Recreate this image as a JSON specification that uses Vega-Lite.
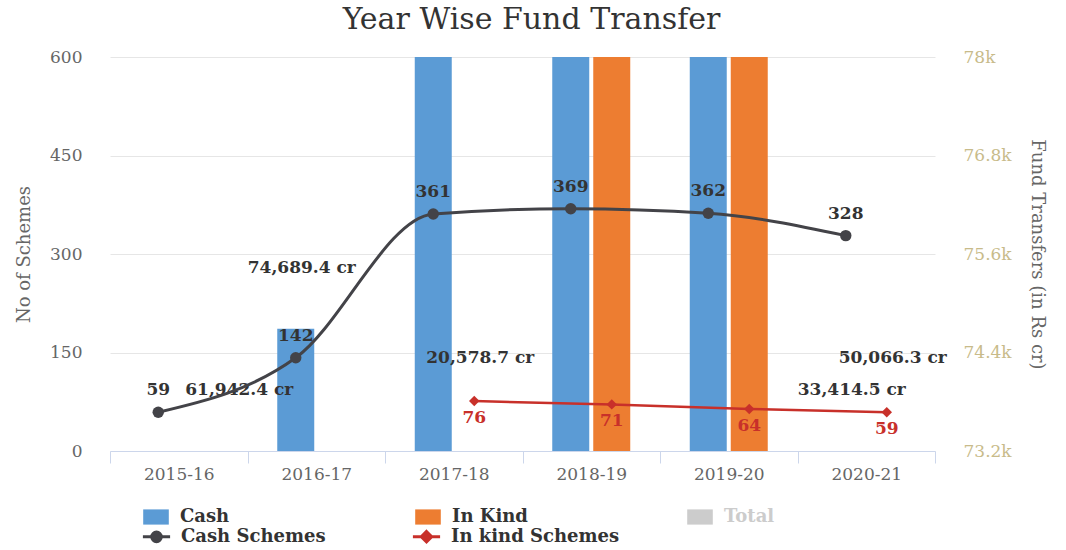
{
  "$schema": "https://vega.github.io/schema/vega-lite/v6.json",
  "width": 825,
  "height": 394,
  "autosize": {"type": "none"},
  "padding": {"left": 110, "top": 57, "right": 131, "bottom": 99},
  "title": {"text": "Year Wise Fund Transfer", "font": "DejaVu Serif", "fontSize": 30, "fontWeight": "normal", "color": "#333333", "anchor": "middle", "frame": "group", "dx": 9, "offset": 13},
  "config": {
    "locale": {"number": {"decimal": ".", "thousands": ",", "grouping": [3], "currency": ["", " cr"]}},
    "view": {"stroke": null},
    "font": "DejaVu Serif",
    "axis": {"labelFont": "DejaVu Serif", "titleFont": "DejaVu Serif"},
    "legend": {"labelFont": "DejaVu Serif"}
  },
  "data": {
    "values": [
      {"year": "2015-16", "type": "Cash", "amount": 61942.4, "schemes": 59},
      {"year": "2016-17", "type": "Cash", "amount": 74689.4, "schemes": 142},
      {"year": "2017-18", "type": "Cash", "amount": 170292.6, "schemes": 361},
      {"year": "2018-19", "type": "Cash", "amount": 214092, "schemes": 369},
      {"year": "2019-20", "type": "Cash", "amount": 240964, "schemes": 362},
      {"year": "2020-21", "type": "Cash", "amount": 33414.5, "schemes": 328},
      {"year": "2017-18", "type": "In Kind", "amount": 20578.7, "schemes": 76},
      {"year": "2018-19", "type": "In Kind", "amount": 115704, "schemes": 71},
      {"year": "2019-20", "type": "In Kind", "amount": 140667, "schemes": 64},
      {"year": "2020-21", "type": "In Kind", "amount": 50066.3, "schemes": 59}
    ]
  },
  "encoding": {
    "x": {
      "field": "year", "type": "nominal", "sort": null,
      "scale": {"paddingInner": 0, "paddingOuter": 0},
      "axis": {"title": null, "labelAngle": 0, "domainColor": "#ccd6eb", "tickColor": "#ccd6eb", "tickBand": "extent", "tickSize": 12, "labelPadding": 3, "labelFontSize": 17, "labelColor": "#666666", "grid": false}
    },
    "xOffset": {"field": "type", "type": "nominal", "scale": {"domain": ["Cash", "In Kind"], "paddingInner": 0.0976, "paddingOuter": 0.7256}}
  },
  "layer": [
    {
      "encoding": {
        "y": {
          "field": "amount", "type": "quantitative",
          "scale": {"domain": [73200, 78000], "clamp": true, "nice": false, "zero": false},
          "axis": {"orient": "right", "title": "Fund Transfers (in Rs cr)", "values": [73200, 74400, 75600, 76800, 78000], "labelExpr": "format(datum.value / 1000, '~f') + 'k'", "grid": false, "domain": false, "ticks": false, "labelPadding": 28, "labelFontSize": 17, "labelColor": "#c8bb8a", "titleFontSize": 18, "titleFontWeight": "normal", "titleColor": "#666666", "titlePadding": 16}
        }
      },
      "layer": [
        {
          "mark": {"type": "bar", "clip": true},
          "encoding": {
            "fill": {
              "field": "type", "type": "nominal",
              "scale": {"domain": ["Cash", "In Kind", "Total"], "range": ["#5b9bd5", "#ed7d31", "#cccccc"]},
              "legend": {
                "orient": "none", "legendX": 37, "legendY": 451, "direction": "horizontal", "columns": 3, "gridAlign": "all", "columnPadding": 159, "rowPadding": 0,
                "title": null, "labelFontSize": 18, "labelFontWeight": "bold", "labelColor": "#333333", "labelLimit": 400, "labelOffset": 15,
                "symbolSize": 256, "symbolStrokeWidth": 0, "symbolOpacity": 1,
                "encode": {
                  "symbols": {"update": {
                    "shape": {"value": "M-1.6,-0.95H1.6V0.95H-1.6Z"},
                    "fill": {"scale": "fill", "field": "value"},
                    "strokeWidth": {"value": 0},
                    "opacity": {"value": 1}
                  }},
                  "labels": {"update": {"fill": {"signal": "datum.value === 'Total' ? '#cccccc' : '#333333'"}}}
                }
              }
            }
          }
        },
        {
          "transform": [{"filter": "datum.amount < 78000 && datum.type === 'Cash' && datum.year !== '2015-16'"}],
          "mark": {"type": "text", "dy": -61, "dx": 6, "fontSize": 17, "fontWeight": "bold", "color": "#333333", "baseline": "middle"},
          "encoding": {"text": {"field": "amount", "type": "quantitative", "format": "$,.1f"}}
        },
        {
          "transform": [{"filter": "datum.amount < 78000 && datum.type === 'Cash' && datum.year === '2015-16'"}],
          "mark": {"type": "text", "dy": -61, "dx": 27, "align": "left", "fontSize": 17, "fontWeight": "bold", "color": "#333333", "baseline": "middle"},
          "encoding": {"text": {"field": "amount", "type": "quantitative", "format": "$,.1f"}}
        },
        {
          "transform": [{"filter": "datum.amount < 78000 && datum.type === 'In Kind'"}],
          "mark": {"type": "text", "dy": -93, "dx": 6, "fontSize": 17, "fontWeight": "bold", "color": "#333333", "baseline": "middle"},
          "encoding": {"text": {"field": "amount", "type": "quantitative", "format": "$,.1f"}}
        }
      ]
    },
    {
      "encoding": {
        "y": {
          "field": "schemes", "type": "quantitative",
          "scale": {"domain": [0, 600], "nice": false},
          "axis": {"orient": "left", "title": "No of Schemes", "values": [0, 150, 300, 450, 600], "grid": true, "gridColor": "#e6e6e6", "gridWidth": 1, "domain": false, "ticks": false, "labelPadding": 28, "labelFontSize": 17, "labelColor": "#666666", "titleFontSize": 18, "titleFontWeight": "normal", "titleColor": "#666666", "titlePadding": 16}
        }
      },
      "layer": [
        {
          "transform": [{"filter": "datum.type === 'Cash'"}],
          "mark": {"type": "line", "interpolate": "monotone", "strokeWidth": 3},
          "encoding": {
            "stroke": {
              "datum": "Cash Schemes", "type": "nominal",
              "scale": {"domain": ["Cash Schemes", "In kind Schemes"], "range": ["#434348", "#c8302a"]},
              "legend": {
                "orient": "none", "legendX": 37, "legendY": 470, "direction": "horizontal", "columns": 2, "gridAlign": "all", "columnPadding": 56, "rowPadding": 0,
                "title": null, "labelFontSize": 18, "labelFontWeight": "bold", "labelColor": "#333333", "labelLimit": 400, "labelOffset": 15,
                "symbolSize": 256, "symbolStrokeWidth": 3, "symbolOpacity": 1,
                "encode": {
                  "symbols": {"update": {
                    "shape": {"signal": "datum.value === 'Cash Schemes' ? 'M-1.7,0H1.7M-0.6,0A0.6,0.6,0,1,1,0.6,0A0.6,0.6,0,1,1,-0.6,0Z' : 'M-1.7,0H1.7M0,-0.65L0.65,0L0,0.65L-0.65,0Z'"},
                    "fill": {"scale": "stroke", "field": "value"},
                    "stroke": {"scale": "stroke", "field": "value"},
                    "strokeWidth": {"value": 3},
                    "opacity": {"value": 1}
                  }}
                }
              }
            }
          }
        },
        {
          "transform": [{"filter": "datum.type === 'Cash'"}],
          "mark": {"type": "point", "filled": true, "opacity": 1, "size": 130, "shape": "circle", "color": "#434348"}
        },
        {
          "transform": [{"filter": "datum.type === 'Cash'"}],
          "mark": {"type": "text", "dy": -22, "fontSize": 17, "fontWeight": "bold", "color": "#333333", "baseline": "middle"},
          "encoding": {"text": {"field": "schemes", "type": "quantitative"}}
        },
        {
          "transform": [{"filter": "datum.type === 'In Kind'"}],
          "mark": {"type": "line", "interpolate": "linear", "strokeWidth": 2.5},
          "encoding": {"stroke": {"datum": "In kind Schemes", "type": "nominal"}}
        },
        {
          "transform": [{"filter": "datum.type === 'In Kind'"}],
          "mark": {"type": "point", "filled": true, "opacity": 1, "size": 110, "shape": "diamond", "color": "#c8302a"}
        },
        {
          "transform": [{"filter": "datum.type === 'In Kind'"}],
          "mark": {"type": "text", "dy": 17, "fontSize": 17, "fontWeight": "bold", "color": "#c8302a", "baseline": "middle"},
          "encoding": {"text": {"field": "schemes", "type": "quantitative"}}
        }
      ]
    }
  ],
  "resolve": {"scale": {"y": "independent"}, "axis": {"y": "independent"}}
}
